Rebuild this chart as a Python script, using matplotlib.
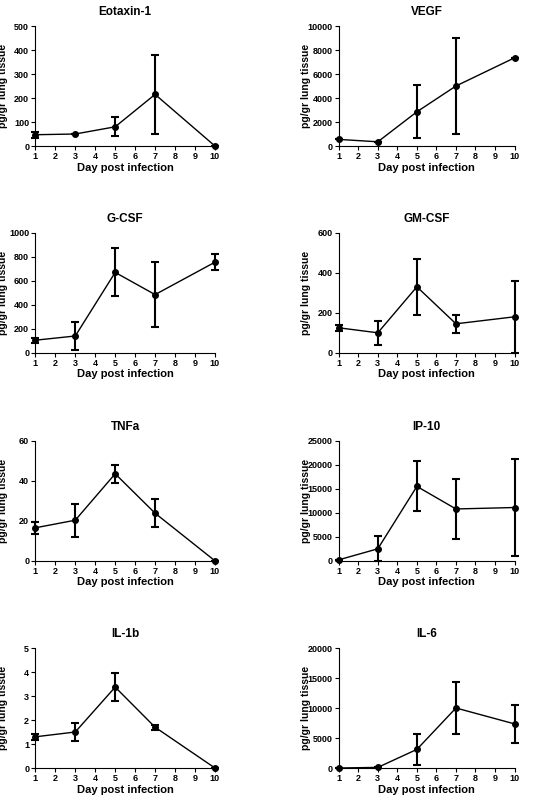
import matplotlib
matplotlib.use("Agg")
import matplotlib.pyplot as plt

plt.rcParams['font.family'] = ['Liberation Sans', 'DejaVu Sans']
plt.rcParams['font.weight'] = 'bold'

days = [1, 3, 5, 7, 10]
titles = ["Eotaxin-1", "VEGF", "G-CSF", "GM-CSF", "TNFa", "IP-10", "IL-1b", "IL-6"]
eotaxin = [47, 50, 80, 215, 0];        eotaxin_err = [12, 0, 40, 166, 0]
vegf = [550, 350, 2850, 5000, 7350];   vegf_err = [0, 0, 2200, 4000, 0]
gcsf = [105, 140, 670, 485, 755];      gcsf_err = [20, 115, 200, 270, 65]
gmcsf = [125, 100, 330, 145, 180];     gmcsf_err = [15, 60, 140, 45, 180]
tnfa = [16.5, 20.3, 43.5, 23.8, 0];    tnfa_err = [3, 8.2, 4.6, 7, 0]
ip10 = [200, 2500, 15500, 10800, 11100]; ip10_err = [0, 2600, 5200, 6200, 10200]
il1b = [1.3, 1.5, 3.37, 1.7, 0];       il1b_err = [0.12, 0.37, 0.57, 0.1, 0]
il6 = [0, 100, 3100, 10000, 7350];     il6_err = [0, 0, 2600, 4300, 3200]
series = [eotaxin, vegf, gcsf, gmcsf, tnfa, ip10, il1b, il6]
errs = [eotaxin_err, vegf_err, gcsf_err, gmcsf_err, tnfa_err, ip10_err, il1b_err, il6_err]
ymax = [500, 10000, 1000, 600, 60, 25000, 5, 20000]
ystep = [100, 2000, 200, 200, 20, 5000, 1, 5000]

fig = plt.figure(figsize=(5.36, 8), dpi=100)
lefts = [0.066, 0.632]
widths = [0.335, 0.328]
bottoms = [0.8175, 0.559, 0.299, 0.04]
for i in range(8):
    r, c = divmod(i, 2)
    ax = fig.add_axes([lefts[c], bottoms[r], widths[c], 0.15])
    ax.errorbar(days, series[i], yerr=errs[i], color='black', lw=1.0,
                marker='o', ms=4, capsize=3, elinewidth=1.5, capthick=1.5,
                clip_on=False)
    ax.set_xlim(1, 10)
    ax.set_ylim(0, ymax[i])
    ax.set_xticks(range(1, 11))
    ax.set_yticks(range(0, ymax[i] + 1, ystep[i]))
    ax.spines['top'].set_visible(False)
    ax.spines['right'].set_visible(False)
    ax.tick_params(labelsize=6.5, length=3, pad=1.5)
    for lab in ax.get_xticklabels() + ax.get_yticklabels():
        lab.set_fontweight('bold')
    ax.set_title(titles[i], fontsize=8.5, fontweight='bold', pad=8)
    ax.set_xlabel("Day post infection", fontsize=8, fontweight='bold', labelpad=1)
    ax.set_ylabel("pg/gr lung tissue", fontsize=7.5, fontweight='bold')
    ax.yaxis.set_label_coords(-0.155 if c == 0 else -0.16, 0.5)

fig.savefig("out.png", dpi=100)
